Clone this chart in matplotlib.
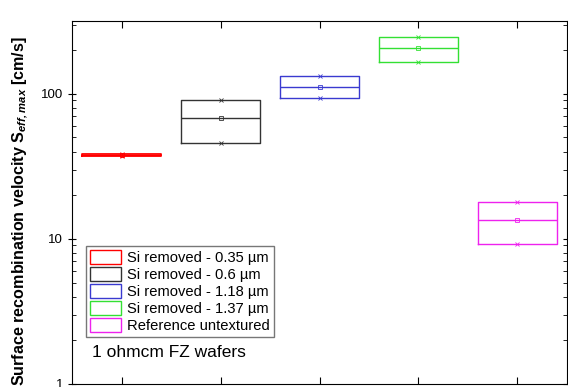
import matplotlib.pyplot as plt
from matplotlib.patches import Patch

plt.rcParams['font.family'] = ['Liberation Sans', 'DejaVu Sans']
plt.rcParams['mathtext.fontset'] = 'custom'
plt.rcParams['mathtext.bfit'] = 'Liberation Sans:italic:bold'

labels = ['Si removed - 0.35 µm', 'Si removed - 0.6 µm', 'Si removed - 1.18 µm',
          'Si removed - 1.37 µm', 'Reference untextured']
colors = ['#ff0000', '#333333', '#3a3ad0', '#33e033', '#ee22ee']
positions = [1, 2, 3, 4, 5]
low = [37.2, 45.7, 93, 166, 9.2]
median = [37.8, 68, 112, 207, 13.5]
high = [38.4, 90, 132, 248, 17.9]

fig = plt.figure(figsize=(5.68, 3.87), dpi=100)
ax = fig.add_axes([0.127, 0.008, 0.871, 0.938])

stats = []
for lo, me, hi in zip(low, median, high):
    stats.append({'q1': lo, 'med': me, 'q3': hi, 'whislo': lo, 'whishi': hi})

for s, pos, c in zip(stats, positions, colors):
    lw = 1.3 if c == '#ff0000' else 1.0
    ax.bxp([s], positions=[pos], widths=0.8, showfliers=False, showcaps=False,
           boxprops=dict(color=c, lw=lw), medianprops=dict(color=c, lw=1.0),
           whiskerprops=dict(color=c, lw=0))
    ax.plot([pos], [s['med']], marker='s', ms=2.5, mfc='none', mec=c, mew=0.6)
    ax.plot([pos, pos], [s['q1'], s['q3']], ls='none', marker='x', ms=3, color=c, mew=0.6)

ax.set_yscale('log')
ax.set_ylim(1, 318)
ax.set_xlim(0.5, 5.5)
ax.set_xticks(positions)
ax.set_xticklabels([])
ax.set_yticks([1, 10, 100])
ax.set_yticklabels(['1', '10', '100'], fontsize=9.5)
ax.tick_params(which='both', direction='in', top=True, right=True)
ax.tick_params(axis='y', which='major', direction='inout', length=6)
ax.tick_params(axis='y', which='minor', length=3)
ax.tick_params(axis='x', which='major', length=5)
ax.tick_params(axis='x', which='minor', bottom=False, top=False)
ax.set_ylabel(r'Surface recombination velocity S$_{\mathbfit{eff,max}}$ [cm/s]',
              fontsize=11.6, fontweight='bold', labelpad=1)
ax.yaxis.set_label_coords(-0.085, 0.475)

handles = [Patch(facecolor='none', edgecolor=c) for c in colors]
leg = ax.legend(handles, labels, loc='lower left', bbox_to_anchor=(0.028, 0.129),
                borderaxespad=0, fontsize=10.6, labelspacing=0.12, handlelength=2.1,
                handleheight=1.1, handletextpad=0.4, fancybox=False, framealpha=1,
                borderpad=0.3)
leg.get_frame().set_edgecolor('#777777')
ax.text(0.04, 0.075, '1 ohmcm FZ wafers', transform=ax.transAxes, fontsize=12.5)

fig.savefig('out.png', dpi=100)
